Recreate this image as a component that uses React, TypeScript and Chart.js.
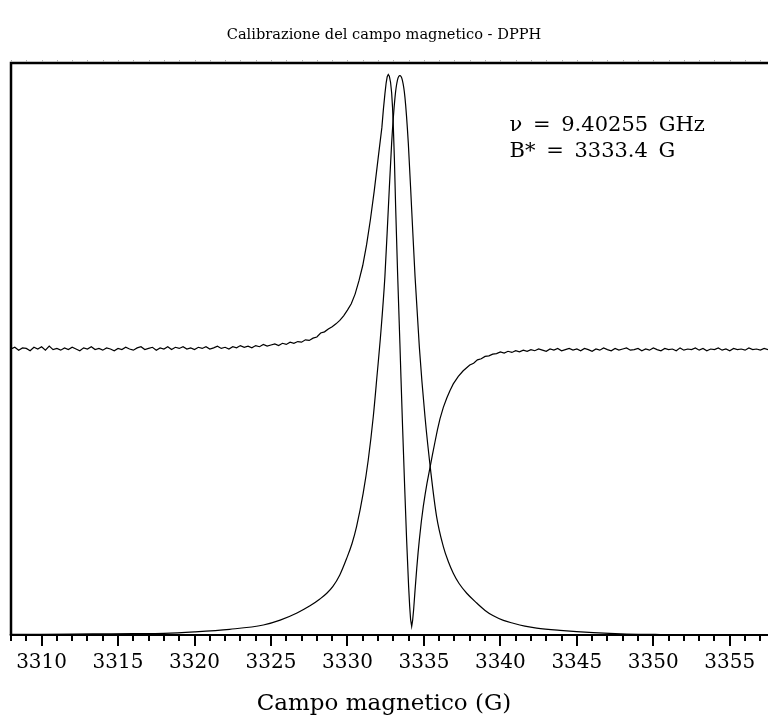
import React, { useEffect, useRef } from 'react';
import { Chart, registerables } from 'chart.js';

Chart.register(...registerables);

const TITLE = 'Calibrazione del campo magnetico - DPPH';
const X_TITLE = 'Campo magnetico (G)';
const ANNOTATION_LINES = ['ν = 9.40255 GHz', 'B* = 3333.4 G'];
const ANNOTATION_FIELD = 3340.6;
const ANNOTATION_SIGNAL = [88.2, 83.6];

const X_MIN = 3308;
const X_MAX = 3357.5;
const Y_MIN = 0;
const Y_MAX = 100;
const X_TICKS = [3310, 3315, 3320, 3325, 3330, 3335, 3340, 3345, 3350, 3355];
const MINOR_STEP = 1;

// First-derivative EPR signal (field in G, signal in arbitrary units)
const DERIV_FIELD = [
  3308.0, 3308.25, 3308.5, 3308.75, 3309.0, 3309.25, 3309.5, 3309.75, 3310.0, 3310.25,
  3310.5, 3310.75, 3311.0, 3311.25, 3311.5, 3311.75, 3312.0, 3312.25, 3312.5, 3312.75,
  3313.0, 3313.25, 3313.5, 3313.75, 3314.0, 3314.25, 3314.5, 3314.75, 3315.0, 3315.25,
  3315.5, 3315.75, 3316.0, 3316.25, 3316.5, 3316.75, 3317.0, 3317.25, 3317.5, 3317.75,
  3318.0, 3318.25, 3318.5, 3318.75, 3319.0, 3319.25, 3319.5, 3319.75, 3320.0, 3320.25,
  3320.5, 3320.75, 3321.0, 3321.25, 3321.5, 3321.75, 3322.0, 3322.25, 3322.5, 3322.75,
  3323.0, 3323.25, 3323.5, 3323.75, 3324.0, 3324.25, 3324.5, 3324.75, 3325.0, 3325.25,
  3325.5, 3325.75, 3326.0, 3326.25, 3326.5,
  3326.75, 3327.0, 3327.25, 3327.5, 3327.75, 3328.0, 3328.25, 3328.5, 3328.75, 3329.0,
  3329.25, 3329.5, 3329.75, 3330.0, 3330.25, 3330.5, 3330.75, 3331.0, 3331.25, 3331.5,
  3331.75, 3332.0, 3332.25,
  3332.35, 3332.45, 3332.53, 3332.6, 3332.67, 3332.74, 3332.82, 3332.89, 3332.95, 3333.0,
  3333.07, 3333.15, 3333.28, 3333.43, 3333.5, 3333.61, 3333.74, 3333.87, 3334.0, 3334.07,
  3334.13, 3334.2, 3334.26, 3334.33, 3334.42, 3334.53, 3334.62, 3334.7, 3334.83, 3334.96,
  3335.08, 3335.2, 3335.4, 3335.55, 3335.72, 3335.88, 3336.05, 3336.27, 3336.49, 3336.7,
  3336.92, 3337.25, 3337.57, 3338.0, 3338.25, 3338.5, 3338.75, 3339.0, 3339.25, 3339.5,
  3339.75, 3340.0, 3340.25, 3340.5, 3340.75, 3341.0, 3341.25, 3341.5, 3341.75, 3342.0,
  3342.25, 3342.5, 3342.75, 3343.0, 3343.25, 3343.5, 3343.75, 3344.0, 3344.25, 3344.5,
  3344.75, 3345.0, 3345.25, 3345.5, 3345.75, 3346.0, 3346.25, 3346.5, 3346.75, 3347.0,
  3347.25, 3347.5, 3347.75, 3348.0, 3348.25, 3348.5, 3348.75, 3349.0, 3349.25, 3349.5,
  3349.75, 3350.0, 3350.25, 3350.5, 3350.75, 3351.0, 3351.25, 3351.5, 3351.75, 3352.0,
  3352.25, 3352.5, 3352.75, 3353.0, 3353.25, 3353.5, 3353.75, 3354.0, 3354.25, 3354.5,
  3354.75, 3355.0, 3355.25, 3355.5, 3355.75, 3356.0, 3356.25, 3356.5, 3356.75, 3357.0,
  3357.25, 3357.5,
];
const DERIV_SIGNAL = [
  50.0, 50.3, 49.8, 50.2, 50.1, 49.7, 50.3, 50.0, 50.4, 49.8,
  50.5, 49.9, 50.1, 49.8, 50.2, 49.9, 50.3, 50.0, 49.7, 50.2,
  50.0, 50.4, 49.9, 50.1, 49.8, 50.2, 50.0, 49.7, 50.1, 49.9,
  50.3, 50.0, 49.8, 50.2, 50.4, 49.9, 50.1, 50.3, 49.8, 50.2,
  50.0, 50.4, 49.9, 50.3, 50.1, 50.4, 50.0, 50.2, 49.9, 50.3,
  50.1, 50.4, 50.0, 50.2, 50.5, 50.1, 50.3, 50.0, 50.4, 50.2,
  50.6, 50.3, 50.5, 50.2, 50.6, 50.4, 50.8, 50.5, 50.7, 50.9,
  50.6, 51.0, 50.8, 51.2, 51.0,
  51.3, 51.2, 51.6, 51.5, 51.9, 52.1, 52.8, 53.0, 53.5, 53.9,
  54.4, 55.0, 55.8, 56.8, 57.9, 59.6, 61.9, 64.6, 68.2, 72.6,
  77.6, 83.2, 88.7,
  91.9, 94.6, 96.5, 97.6, 98.0, 97.7, 96.6, 94.8, 92.2, 88.9,
  83.2, 75.0, 63.2, 51.0, 45.0, 36.0, 26.0, 16.6, 8.5, 5.0,
  2.7, 1.5, 2.5, 4.5, 7.8, 11.6, 14.4, 16.6, 19.8, 22.5,
  24.6, 26.5, 29.3, 31.4, 33.7, 35.8, 37.8, 39.8, 41.4, 42.7,
  43.9, 45.2, 46.2, 47.2, 47.5, 48.1, 48.3, 48.7, 48.8, 49.1,
  49.2, 49.5, 49.3, 49.6, 49.4, 49.7, 49.5, 49.8, 49.6, 49.9,
  49.7, 50.0, 49.8, 49.6, 50.0, 49.8, 50.1, 49.7, 49.9, 50.1,
  49.8, 50.0, 49.7, 50.1, 49.9, 49.6, 50.0, 49.8, 50.2, 49.9,
  49.7, 50.1, 49.8, 50.0, 50.2, 49.8, 49.9, 50.1, 49.7, 50.0,
  49.8, 50.2, 49.9, 49.7, 50.1, 49.9, 50.0, 49.7, 50.2, 49.8,
  50.0, 49.9, 50.2, 49.8, 50.1, 49.7, 50.0, 49.9, 50.2, 49.8,
  50.0, 49.7, 50.1, 49.9, 50.0, 49.8, 50.2, 49.9, 50.0, 49.8,
  50.1, 49.9,
];

// Absorption (integrated) signal
const ABS_FIELD = [
  3308, 3310, 3312, 3314, 3316, 3318, 3320, 3322.3, 3324.5, 3325.6,
  3326.7, 3327.55, 3328.2, 3328.65, 3329.05, 3329.5, 3329.95, 3330.3, 3330.6, 3331.03,
  3331.36, 3331.69, 3331.95, 3332.15, 3332.45, 3332.67, 3332.89, 3333.11, 3333.27, 3333.43,
  3333.59, 3333.76, 3333.98, 3334.2, 3334.42, 3334.7, 3335.07, 3335.46, 3335.83, 3336.27,
  3336.6, 3336.92, 3337.3, 3337.8, 3338.45, 3339.0, 3339.54, 3340.2, 3340.84, 3341.6,
  3342.37, 3343.9, 3346.08, 3348.26, 3350.44, 3353, 3357.5,
];
const ABS_SIGNAL = [
  0.1, 0.12, 0.15, 0.2, 0.25, 0.3, 0.55, 1.0, 1.75, 2.6,
  3.85, 5.1, 6.3, 7.3, 8.5, 10.5, 13.4, 16.0, 19.0, 24.8,
  30.6, 38.2, 45.8, 51.8, 62.7, 74.4, 86.0, 94.0, 97.0, 97.8,
  97.0, 94.0, 86.0, 74.4, 62.7, 50.4, 38.2, 28.3, 20.7, 15.45,
  12.8, 10.8, 9.0, 7.3, 5.6, 4.3, 3.35, 2.55, 2.05, 1.55,
  1.2, 0.8, 0.4, 0.17, 0.09, 0.06, 0.05,
];

const SERIF = '"DejaVu Serif", serif';

const framePlugin = {
  id: 'frame',
  afterDraw(chart: any) {
    const { ctx, chartArea } = chart;
    const { left, top, right, bottom } = chartArea;
    const xs = chart.scales.x;
    const ys = chart.scales.y;
    ctx.save();
    ctx.strokeStyle = '#000';
    ctx.lineCap = 'butt';
    ctx.lineWidth = 2.5;
    ctx.beginPath();
    ctx.moveTo(left, bottom);
    ctx.lineTo(left, top);
    ctx.lineTo(right, top);
    ctx.stroke();
    ctx.lineWidth = 2;
    ctx.beginPath();
    ctx.moveTo(left - 1.25, bottom);
    ctx.lineTo(right, bottom);
    ctx.stroke();
    for (let v = Math.ceil(X_MIN); v <= X_MAX; v += MINOR_STEP) {
      const px = Math.round(xs.getPixelForValue(v));
      const major = v % 5 === 0;
      ctx.strokeStyle = '#000';
      ctx.lineWidth = 2;
      ctx.beginPath();
      ctx.moveTo(px, bottom);
      ctx.lineTo(px, bottom + (major ? 11 : 6));
      ctx.stroke();
      ctx.strokeStyle = '#b0b0b0';
      ctx.lineWidth = 1;
      ctx.beginPath();
      ctx.moveTo(px + 0.5, top - 1);
      ctx.lineTo(px + 0.5, top - 3);
      ctx.stroke();
    }
    ctx.fillStyle = '#000';
    ctx.font = '21px ' + SERIF;
    (ctx as any).wordSpacing = '4px';
    ctx.textAlign = 'left';
    ctx.textBaseline = 'alphabetic';
    const ax = xs.getPixelForValue(ANNOTATION_FIELD);
    ANNOTATION_LINES.forEach((t, i) => {
      ctx.fillText(t, ax, ys.getPixelForValue(ANNOTATION_SIGNAL[i]));
    });
    (ctx as any).wordSpacing = '0px';
    ctx.restore();
  },
};

export default function App() {
  const ref = useRef<HTMLCanvasElement | null>(null);
  useEffect(() => {
    if (!ref.current) return;
    const chart = new Chart(ref.current, {
      type: 'line',
      data: {
        datasets: [
          {
            label: 'Derivata',
            data: DERIV_FIELD.map((x, i) => ({ x, y: DERIV_SIGNAL[i] })),
            borderColor: '#000',
            borderWidth: 1.2,
            pointRadius: 0,
            fill: false,
            tension: 0,
          },
          {
            label: 'Assorbimento',
            data: ABS_FIELD.map((x, i) => ({ x, y: ABS_SIGNAL[i] })),
            borderColor: '#000',
            borderWidth: 1.2,
            pointRadius: 0,
            fill: false,
            cubicInterpolationMode: 'monotone',
          },
        ],
      },
      options: {
        animation: false,
        responsive: false,
        events: [],
        layout: { padding: 0 },
        plugins: {
          legend: { display: false },
          tooltip: { enabled: false },
          title: {
            display: true,
            text: TITLE,
            color: '#000',
            font: { family: SERIF, size: 14.6, weight: 'normal', lineHeight: 1.2 },
            padding: { top: 26.2, bottom: 19.3 },
          },
          subtitle: {
            display: true,
            position: 'bottom',
            text: X_TITLE,
            color: '#000',
            font: { family: SERIF, size: 23, weight: 'normal', lineHeight: 1 },
            padding: { top: 0, bottom: 1 },
          },
        },
        scales: {
          x: {
            type: 'linear',
            min: X_MIN,
            max: X_MAX,
            afterBuildTicks: (s: any) => {
              s.ticks = X_TICKS.map((v) => ({ value: v }));
            },
            afterFit: (s: any) => {
              s.height = 58;
            },
            grid: { display: false, drawTicks: true, tickLength: 16 },
            border: { display: false },
            ticks: {
              color: '#000',
              font: { family: SERIF, size: 20, lineHeight: 1.2 },
              padding: 0,
              maxRotation: 0,
              autoSkip: false,
              callback: (v: any) => String(v),
            },
          },
          y: {
            display: true,
            min: Y_MIN,
            max: Y_MAX,
            grid: { display: false, drawTicks: false },
            border: { display: false },
            ticks: { display: false },
            afterFit: (s: any) => {
              s.width = 11;
            },
          },
        },
      },
      plugins: [framePlugin],
    } as any);
    return () => chart.destroy();
  }, []);
  return (
    <div style={{ position: 'absolute', left: 0, top: 0, width: 768, height: 717, background: '#fff' }}>
      <canvas ref={ref} width={768} height={717} style={{ display: 'block' }} />
    </div>
  );
}
